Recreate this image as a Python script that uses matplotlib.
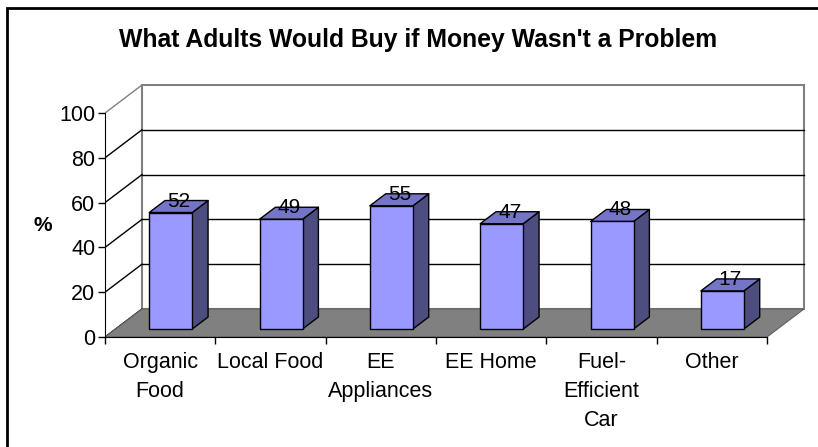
import matplotlib.pyplot as plt
from matplotlib.patches import Polygon, Rectangle

plt.rcParams['font.family'] = ['Liberation Sans', 'DejaVu Sans']

categories = ['Organic\nFood', 'Local Food', 'EE\nAppliances', 'EE Home',
              'Fuel-\nEfficient\nCar', 'Other']
values = [52, 49, 55, 47, 48, 17]
y_ticks = [0, 20, 40, 60, 80, 100]

# fake 3d: a point at depth d (0 front .. 1 back) is shifted by (d*DX, d*DY)
DX = 0.335
DY = 12.5
BAR_W = 0.39
D0, D1 = 0.286, 0.714

FRONT = '#9999FF'
TOP = '#7575C8'
SIDE = '#4D4D80'
GRID_GRAY = '#808080'


def proj(x, y, d):
    return (x + d * DX, y + d * DY)


fig = plt.figure(figsize=(8.18, 4.47), dpi=100)
ax = fig.add_axes([105 / 818, 110 / 447, 706 / 818, 253 / 447])
ax.set_xlim(0, 6.399)
ax.set_ylim(0, 112.95)
n = len(categories)

# back wall
ax.add_patch(Rectangle((DX, DY), n, 100, facecolor='white',
                       edgecolor=GRID_GRAY, lw=1.5, zorder=1))
for v in y_ticks[1:-1]:
    ax.plot([DX, n + DX], [v + DY, v + DY], color='black', lw=1, zorder=2)

# floor
ax.add_patch(Polygon([proj(0, 0, 0), proj(n, 0, 0), proj(n, 0, 1), proj(0, 0, 1)],
                     closed=True, facecolor='#808080', edgecolor='#606060',
                     lw=0.8, zorder=3))

# side wall lines
for v in y_ticks:
    col = GRID_GRAY if v == 100 else 'black'
    ax.plot([0, DX], [v, v + DY], color=col, lw=1, zorder=2)

# bars
for i, v in enumerate(values):
    x0 = i + 0.5 - BAR_W / 2
    x1 = x0 + BAR_W
    front = [proj(x0, 0, D0), proj(x1, 0, D0), proj(x1, v, D0), proj(x0, v, D0)]
    side = [proj(x1, 0, D0), proj(x1, 0, D1), proj(x1, v, D1), proj(x1, v, D0)]
    top = [proj(x0, v, D0), proj(x1, v, D0), proj(x1, v, D1), proj(x0, v, D1)]
    for pts, c in ((side, SIDE), (top, TOP), (front, FRONT)):
        ax.add_patch(Polygon(pts, closed=True, facecolor=c, edgecolor='black',
                             lw=1, zorder=5, joinstyle='round'))
    cx, cy = proj(i + 0.5, v, 0.5)
    ax.text(cx, cy, str(v), ha='center', va='baseline', fontsize=15, zorder=6)

for s in ('top', 'right'):
    ax.spines[s].set_visible(False)
ax.spines['left'].set_bounds(0, 100)
ax.spines['bottom'].set_bounds(0, n)
ax.spines['left'].set_zorder(7)
ax.spines['bottom'].set_zorder(7)

ax.set_yticks(y_ticks)
ax.tick_params(axis='y', length=5, width=1, pad=2, labelsize=15.5)
ax.set_xticks(range(n + 1))
ax.set_xticklabels([])
ax.set_xticks([i + 0.5 for i in range(n)], minor=True)
ax.set_xticklabels(categories, minor=True, fontsize=15.5, linespacing=1.5)
ax.tick_params(axis='x', which='major', length=5, width=1)
ax.tick_params(axis='x', which='minor', length=0, pad=11)

fig.text(43 / 818, 1 - 225 / 447, '%', fontsize=15, fontweight='bold',
         ha='center', va='center')
fig.text(418 / 818, 1 - 40 / 447, "What Adults Would Buy if Money Wasn't a Problem",
         fontsize=17.8, fontweight='bold', ha='center', va='center')

# chart frame
fig.patches.append(Rectangle((7 / 818, -0.05), 1.2, 1 - 8 / 447 + 0.05,
                             transform=fig.transFigure, fill=False,
                             edgecolor='black', lw=2))

fig.savefig('out.png', dpi=100)
